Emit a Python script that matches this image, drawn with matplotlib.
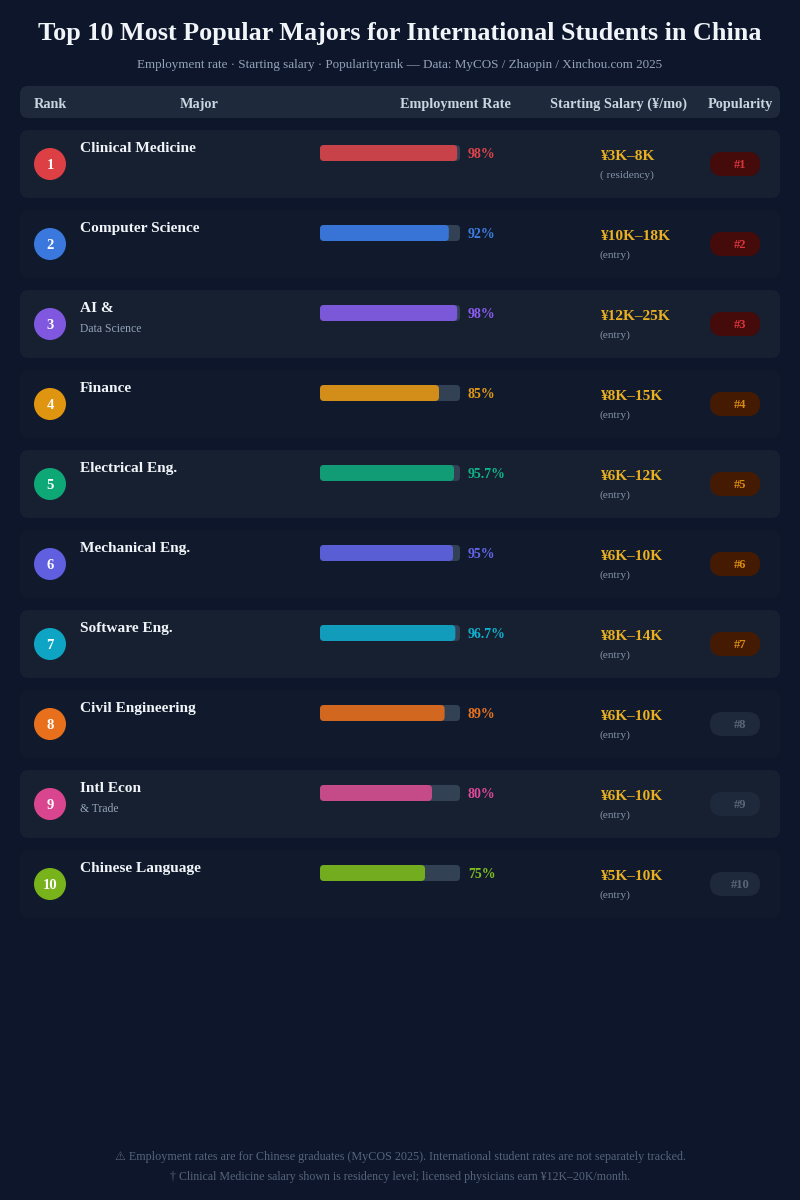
import matplotlib
matplotlib.use("Agg")
import matplotlib.pyplot as plt
from matplotlib.patches import FancyBboxPatch, Circle

# Data
majors = ["Clinical Medicine", "Computer Science", "AI &", "Finance", "Electrical Eng.",
          "Mechanical Eng.", "Software Eng.", "Civil Engineering", "Intl Econ", "Chinese Language"]
major_notes = ["", "", "Data Science", "", "", "", "", "", "& Trade", ""]
employment = [98, 92, 98, 85, 95.7, 95, 96.7, 89, 80, 75]
employment_labels = ["98%", "92%", "98%", "85%", "95.7%", "95%", "96.7%", "89%", "80%", "75%"]
salaries = ["¥3K–8K", "¥10K–18K", "¥12K–25K", "¥8K–15K", "¥6K–12K",
            "¥6K–10K", "¥8K–14K", "¥6K–10K", "¥6K–10K", "¥5K–10K"]
salary_notes = ["( residency)"] + ["(entry)"] * 9
rank_colors = ["#dc3f44", "#3b78de", "#8058e0", "#e09510", "#0ea876",
               "#5f5fdf", "#0ea5c4", "#e8701c", "#d9468f", "#78b31c"]
label_colors = ["#e0444a", "#3f7de2", "#8a5cf0", "#e39a12", "#10b488",
                "#6366e8", "#0fb0ce", "#ea7420", "#e0489a", "#80bc1e"]
bar_colors = ["#c8424a", "#3873d6", "#7a58d8", "#d28e18", "#119c76",
              "#5a5ed4", "#109cba", "#d2681f", "#c44a88", "#74ac20"]
badge_bg = ["#450a0a"] * 3 + ["#451a03"] * 4 + ["#1e293b"] * 3
badge_fg = ["#d9363c"] * 3 + ["#d98a10"] * 4 + ["#5a6678"] * 3

header_labels = ["Rank", "Major", "Employment Rate", "Starting Salary (¥/mo)", "Popularity"]
header_x = [34, 180, 400, 550, 708]

title = "Top 10 Most Popular Majors for International Students in China"
subtitle = "Employment rate · Starting salary · Popularityrank — Data: MyCOS / Zhaopin / Xinchou.com 2025"
footnotes = ["⚠ Employment rates are for Chinese graduates (MyCOS 2025). International student rates are not separately tracked.",
             "† Clinical Medicine salary shown is residency level; licensed physicians earn ¥12K–20K/month."]

SERIF = ["Liberation Serif", "DejaVu Sans"]
plt.rcParams["font.family"] = SERIF

fig = plt.figure(figsize=(8, 12), dpi=100, facecolor="#0d162a")
ax = fig.add_axes([0, 0, 1, 1])
ax.set_xlim(0, 800)
ax.set_ylim(1200, 0)
ax.axis("off")


def rbox(x, y, w, h, r, color, z=1):
    r = min(r, w / 2, h / 2)
    ax.add_patch(FancyBboxPatch((x + r, y + r), w - 2 * r, h - 2 * r,
                                boxstyle=f"round,pad={r},rounding_size={r}",
                                fc=color, ec="none", zorder=z))


# y is the text baseline, so descenders don't shift the rows
def label(x, y, s, size, color, bold=False, ha="left"):
    ax.text(x, y, s, fontsize=size, color=color, ha=ha, va="baseline",
            fontweight="bold" if bold else "normal", zorder=5)


# Title block
label(400, 40, title, 18.85, "#f1f5f9", True, "center")
label(400, 68, subtitle, 9.43, "#94a3b8", False, "center")

# Header row
rbox(20, 86, 760, 32, 8, "#1e293b")
for hx, h in zip(header_x, header_labels):
    label(hx, 108, h, 10.3, "#cbd5e1", True)

# Rows
for i, major in enumerate(majors):
    top = 130 + i * 80
    rbox(20, top, 760, 68, 8, "#162030" if i % 2 == 0 else "#111a2c")

    ax.add_patch(Circle((50, top + 34), 16, fc=rank_colors[i], ec="none", zorder=3))
    label(50, top + 39, str(i + 1), 10.5, "white", True, "center")

    label(80, top + 22, major, 11.1, "#f1f5f9", True)
    if major_notes[i]:
        label(80, top + 42, major_notes[i], 8.4, "#94a3b8")

    # employment bar, track is 140 px for 100%
    rbox(320, top + 15, 140, 16, 4, "#334155", 2)
    rbox(320, top + 15, 140 * employment[i] / 100, 16, 4, bar_colors[i], 3)
    label(468, top + 28, employment_labels[i], 10, label_colors[i], True)

    label(600, top + 30, salaries[i], 11.1, "#eab020", True)
    label(600, top + 48, salary_notes[i], 8.2, "#8493a8")

    rbox(710, top + 22, 50, 24, 12, badge_bg[i], 3)
    label(740, top + 38, f"#{i + 1}", 9, badge_fg[i], True, "center")

# Footnotes
label(400, 1160, footnotes[0], 8.7, "#56647a", False, "center")
label(400, 1180, footnotes[1], 8.6, "#56647a", False, "center")

fig.savefig("out.png", dpi=100, facecolor=fig.get_facecolor())
